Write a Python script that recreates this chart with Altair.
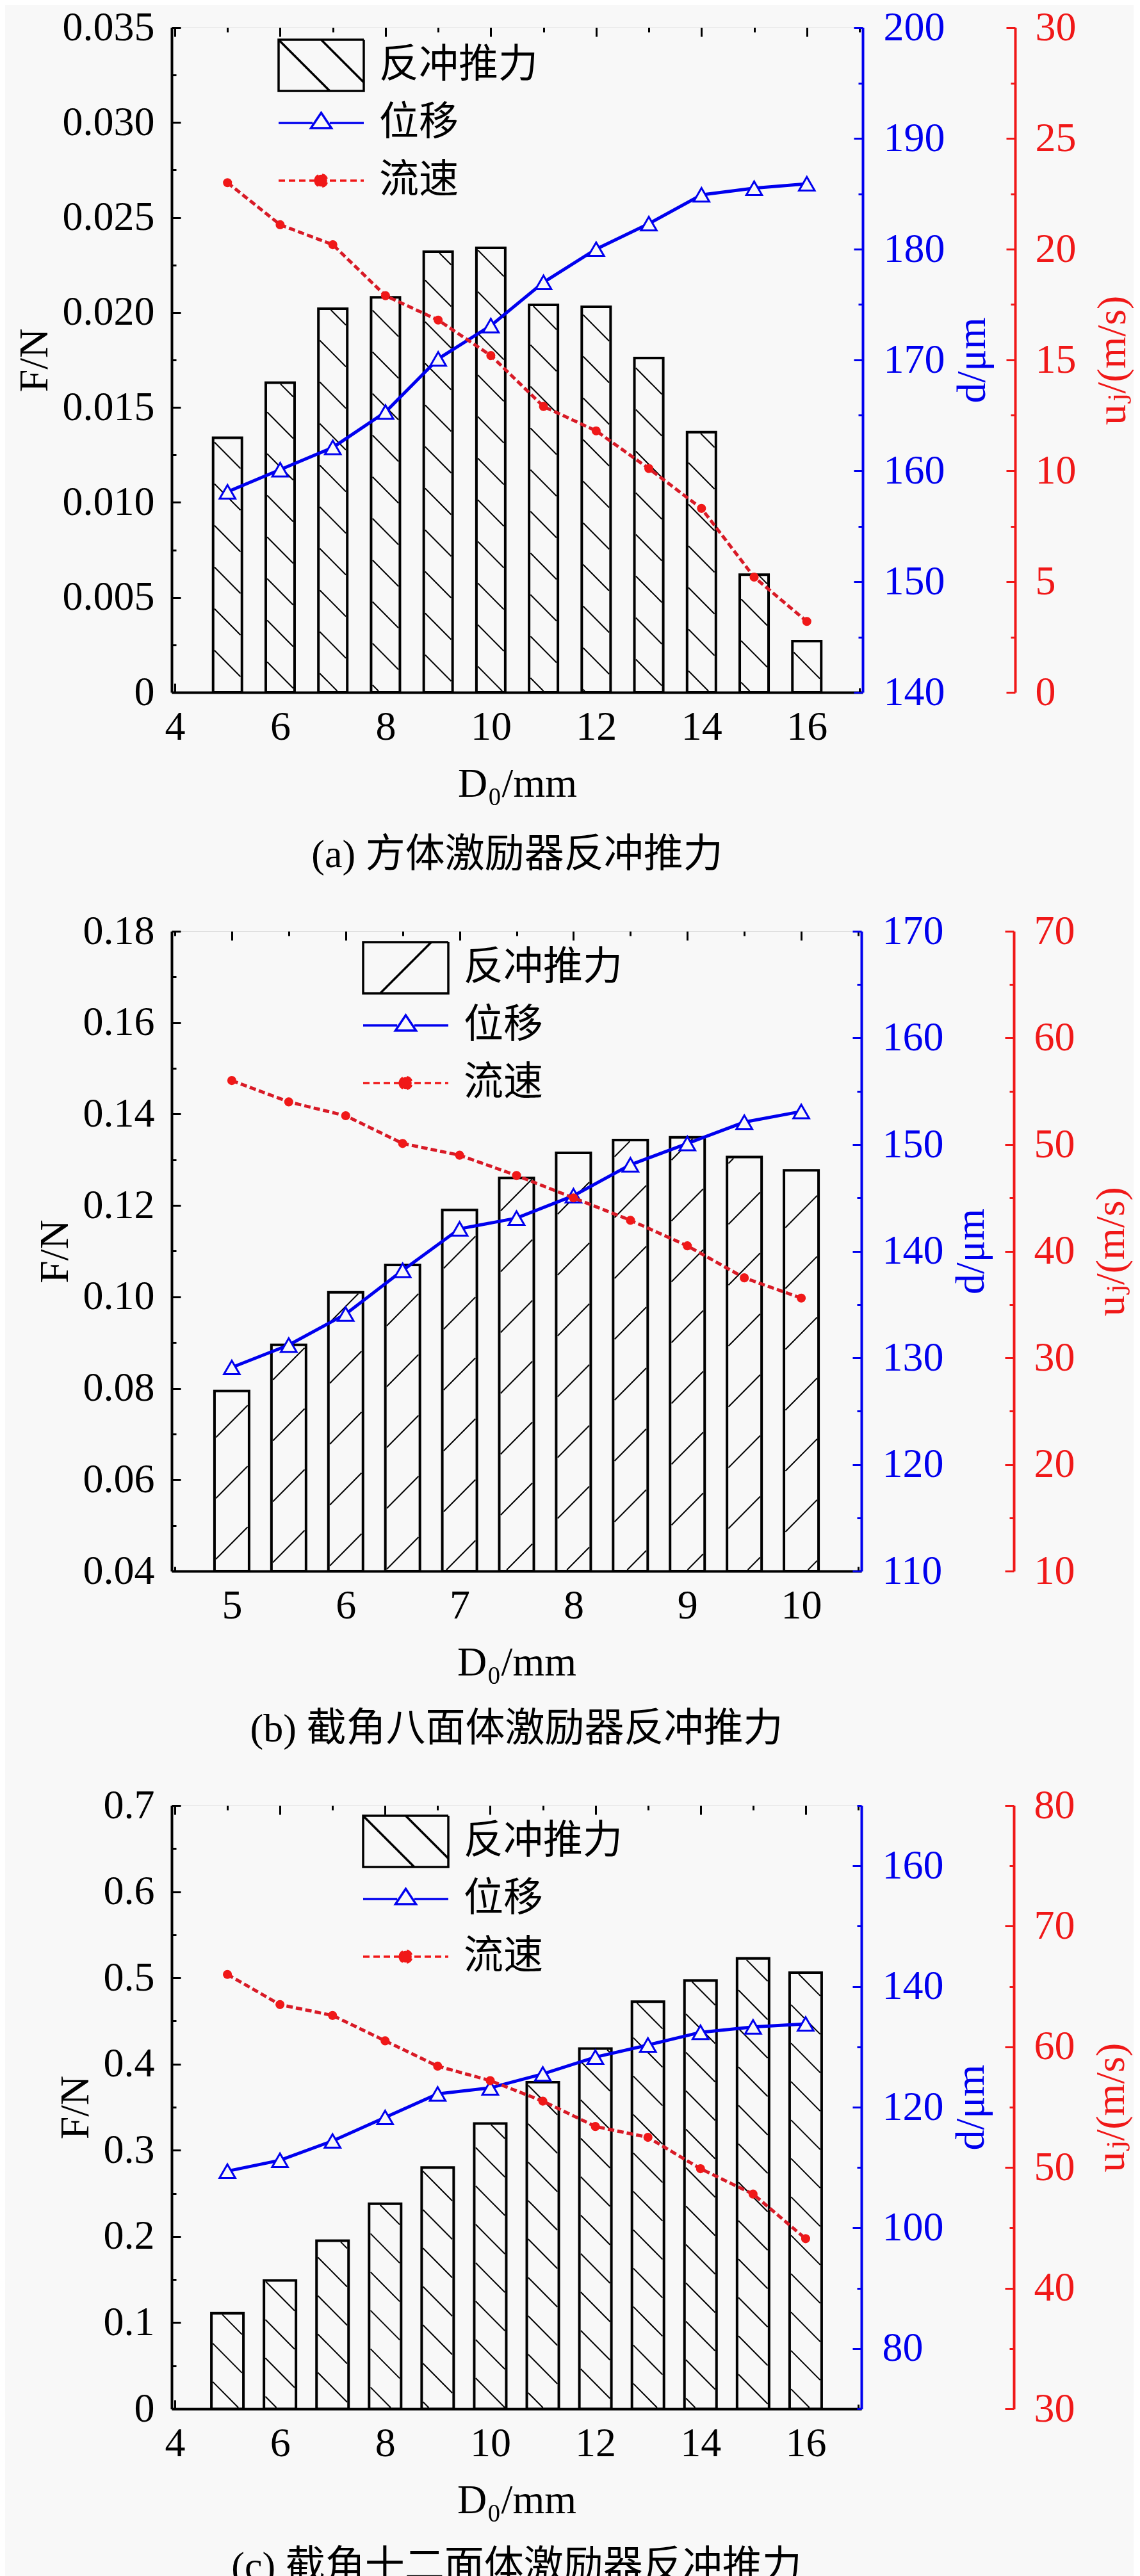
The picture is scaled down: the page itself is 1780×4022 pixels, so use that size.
import math
import numpy as np
import pandas as pd
import altair as alt

# ---------------- data ----------------
A_D0 = [5, 6, 7, 8, 9, 10, 11, 12, 13, 14, 15, 16]
A_F = [0.0134, 0.0163, 0.0202, 0.0208, 0.0232, 0.0234, 0.0204, 0.0203, 0.0176, 0.0137, 0.0062, 0.0027]
A_DISP = [158.1, 160.1, 162.1, 165.3, 170.1, 173.1, 177.0, 180.0, 182.3, 184.9, 185.5, 185.9]
A_VEL = [23.0, 21.1, 20.2, 17.9, 16.8, 15.2, 12.9, 11.8, 10.1, 8.3, 5.2, 3.2]

B_D0 = [5, 5.5, 6, 6.5, 7, 7.5, 8, 8.5, 9, 9.5, 10]
B_F = [0.0794, 0.0895, 0.101, 0.107, 0.119, 0.126, 0.1315, 0.1343, 0.1349, 0.1306, 0.1277]
B_DISP = [129.1, 131.2, 134.1, 138.2, 142.1, 143.1, 145.2, 148.1, 150.1, 152.1, 153.1]
B_VEL = [56.0, 54.0, 52.7, 50.1, 49.0, 47.1, 45.0, 42.9, 40.5, 37.5, 35.6]

C_D0 = [5, 6, 7, 8, 9, 10, 11, 12, 13, 14, 15, 16]
C_F = [0.111, 0.149, 0.195, 0.238, 0.280, 0.331, 0.379, 0.418, 0.4725, 0.497, 0.5225, 0.506]
C_DISP = [109.4, 111.2, 114.4, 118.3, 122.2, 123.2, 125.5, 128.3, 130.3, 132.4, 133.3, 133.8]
C_VEL = [66.0, 63.5, 62.6, 60.5, 58.4, 57.2, 55.5, 53.4, 52.5, 49.9, 47.8, 44.1]

LEGEND_LABELS = ["反冲推力", "位移", "流速"]
CAPTIONS = ["(a) 方体激励器反冲推力", "(b) 截角八面体激励器反冲推力", "(c) 截角十二面体激励器反冲推力"]
X_TITLE = "D₀/mm"
F_TITLE = "F/N"
D_TITLE = "d/μm"
U_TITLE = "uⱼ/(m/s)"

# ---------------- style ----------------
FONT = "Liberation Serif, DejaVu Serif, Noto Sans CJK SC"
BG = "#f8f8f8"
BLUE = "#0000ee"
RED = "#f01818"
RED_LINE = "#d81a26"
TMAJ, TMIN = 14, 7
FS = 64

PANELS = [
    dict(xs=A_D0, F=A_F, D=A_DISP, U=A_VEL, W=1079, H=1038,
         xdom=[4, 17], xstep=1, xmaj=2, fdom=[0, 0.035], fstep=0.0025, fmaj=0.005, ffmt=".3f",
         ddom=[140, 200], dstep=5, dmaj=10, udom=[0, 30], ustep=2.5, umaj=5,
         bw=45, hs=65, hdir="\\", legx=165, legy=15, cap=CAPTIONS[0], capoff=49),
    dict(xs=B_D0, F=B_F, D=B_DISP, U=B_VEL, W=1077, H=999,
         xdom=[4.5, 10.5], xstep=0.5, xmaj=1, fdom=[0.04, 0.18], fstep=0.01, fmaj=0.02, ffmt=".2f",
         ddom=[110, 170], dstep=5, dmaj=10, udom=[10, 70], ustep=5, umaj=10,
         bw=54, hs=95, hdir="/", legx=297, legy=13, cap=CAPTIONS[1], capoff=42),
    dict(xs=C_D0, F=C_F, D=C_DISP, U=C_VEL, W=1077, H=942,
         xdom=[4, 17], xstep=1, xmaj=2, fdom=[0, 0.7], fstep=0.05, fmaj=0.1, ffmt=".1f",
         ddom=[70, 170], dstep=10, dmaj=20, udom=[30, 80], ustep=5, umaj=10,
         bw=50, hs=60, hdir="\\", legx=297, legy=12, cap=CAPTIONS[2], capoff=42),
]

BOX_BACK = "M-1,-0.6H1V0.6H-1Z M-1,-0.6L0.2,0.6 M0,-0.6L1,0.4"
BOX_FWD = "M-1,-0.6H1V0.6H-1Z M-0.6,0.6L0.6,-0.6"
TRI = "M-1,0H-0.2 M0.2,0H1 M-0.24,0.12L0,-0.24L0.24,0.12Z"
CIRC = "M-1,0H1 M-0.14,0A0.14,0.14 0 1,1 0.14,0A0.14,0.14 0 1,1 -0.14,0Z"


def ticks(dom, step):
    n = int(round((dom[1] - dom[0]) / step))
    return [round(dom[0] + i * step, 6) for i in range(n + 1)]


def is_major(m):
    return f"abs(datum.value / {m} - round(datum.value / {m})) < 1e-6"


def mk_axis(orient, values, major, fmt, color, title=None, pad=0, tpad=0,
            labels=True, domain=True, offset=0, zero0=False, tangle=None, tbase=None):
    test = is_major(major)
    kw = dict(orient=orient, values=values,
              tickSize={"expr": f"({test}) ? {-TMAJ} : {-TMIN}"},
              tickColor=color, tickWidth=3, domain=domain, domainColor=color,
              domainWidth=4, labels=labels, offset=offset, grid=False,
              labelOverlap=False, labelFlush=False)
    if labels:
        lab = (f"(datum.value == 0 ? '0' : format(datum.value, '{fmt}'))" if zero0
               else f"format(datum.value, '{fmt}')")
        kw.update(labelExpr=f"({test}) ? {lab} : ''", labelColor=color,
                  labelPadding=pad, labelFont=FONT, labelFontSize=FS)
    if title:
        kw.update(title=title, titleColor=color, titlePadding=tpad, titleFont=FONT,
                  titleFontSize=FS, titleFontWeight="normal")
        if tangle is not None:
            kw.update(titleAngle=tangle)
        if tbase is not None:
            kw.update(titleBaseline=tbase)
    else:
        kw.update(title=None)
    return alt.Axis(**kw)


def hatch_rows(xs, F, xdom, fdom, W, H, bw, sp, direction):
    kx = W / (xdom[1] - xdom[0])
    ky = H / (fdom[1] - fdom[0])
    rows = []
    for xc, v in zip(xs, F):
        cx = (xc - xdom[0]) * kx
        xl, xr = cx - bw / 2 + 2, cx + bw / 2 - 2
        yt, yb = (fdom[1] - v) * ky + 2, H - 2
        if direction == "\\":
            k0, k1 = math.ceil((yt - xr) / sp), math.floor((yb - xl) / sp)
            for k in range(k0, k1 + 1):
                c = k * sp
                xa, xb = max(xl, yt - c), min(xr, yb - c)
                if xb - xa > 1:
                    rows.append((xa, xa + c, xb, xb + c))
        else:
            k0, k1 = math.ceil((xl + yt) / sp), math.floor((xr + yb) / sp)
            for k in range(k0, k1 + 1):
                c = k * sp
                xa, xb = max(xl, c - yb), min(xr, c - yt)
                if xb - xa > 1:
                    rows.append((xa, c - xa, xb, c - xb))
    out = []
    for xa, ya, xb, yb_ in rows:
        out.append(dict(hx=xdom[0] + xa / kx, hy=fdom[1] - ya / ky,
                        hx2=xdom[0] + xb / kx, hy2=fdom[1] - yb_ / ky))
    return pd.DataFrame(out)


def build(P):
    df = pd.DataFrame({"D0": P["xs"], "F": P["F"], "d": P["D"], "u": P["U"]})
    df["base"] = P["fdom"][0]
    hatch = hatch_rows(P["xs"], P["F"], P["xdom"], P["fdom"], P["W"], P["H"], P["bw"], P["hs"], P["hdir"])

    xsc = alt.Scale(domain=P["xdom"], nice=False, zero=False)
    fsc = alt.Scale(domain=P["fdom"], nice=False, zero=False)
    dsc = alt.Scale(domain=P["ddom"], nice=False, zero=False)
    usc = alt.Scale(domain=P["udom"], nice=False, zero=False)

    xv = ticks(P["xdom"], P["xstep"])
    ax_bottom = mk_axis("bottom", xv, P["xmaj"], "d", "black", title=X_TITLE, pad=36, tpad=18)
    ax_top = mk_axis("top", xv, P["xmaj"], "d", "black", labels=False, domain=False)
    ax_left = mk_axis("left", ticks(P["fdom"], P["fstep"]), P["fmaj"], P["ffmt"], "black",
                      title=F_TITLE, pad=41, tpad=11, zero0=True)
    ax_blue = mk_axis("right", ticks(P["ddom"], P["dstep"]), P["dmaj"], "d", BLUE,
                      title=D_TITLE, pad=46, tpad=11, tangle=270, tbase="top")
    ax_red = mk_axis("right", ticks(P["udom"], P["ustep"]), P["umaj"], "d", RED,
                     title=U_TITLE, pad=45, tpad=25, offset=238, tangle=270, tbase="top")

    bars = alt.Chart(df).mark_bar(size=P["bw"], fill=BG, stroke="black", strokeWidth=4).encode(
        x=alt.X("D0:Q", scale=xsc, axis=ax_bottom),
        y=alt.Y("F:Q", scale=fsc, axis=ax_left),
        y2=alt.Y2("base:Q"),
    )
    hl = alt.Chart(hatch).mark_rule(color="black", strokeWidth=2).encode(
        x=alt.X("hx:Q", scale=xsc, axis=ax_bottom),
        y=alt.Y("hy:Q", scale=fsc, axis=ax_left),
        x2=alt.X2("hx2:Q"),
        y2=alt.Y2("hy2:Q"),
    )
    force = alt.layer(bars, hl)

    dline = alt.Chart(df).mark_line(color=BLUE, strokeWidth=5).encode(
        x=alt.X("D0:Q", scale=xsc, axis=ax_top),
        y=alt.Y("d:Q", scale=dsc, axis=ax_blue),
    )
    dpts = alt.Chart(df).mark_point(shape="triangle-up", size=600, filled=True, fill=BG,
                                    stroke=BLUE, strokeWidth=3, opacity=1).encode(
        x=alt.X("D0:Q", scale=xsc, axis=ax_top),
        y=alt.Y("d:Q", scale=dsc, axis=ax_blue),
    )
    disp = alt.layer(dline, dpts)

    uline = alt.Chart(df).mark_line(color=RED_LINE, strokeWidth=5, strokeDash=[10, 5]).encode(
        x=alt.X("D0:Q", scale=xsc, axis=None),
        y=alt.Y("u:Q", scale=usc, axis=ax_red),
    )
    upts = alt.Chart(df).mark_circle(size=200, color=RED, opacity=1).encode(
        x=alt.X("D0:Q", scale=xsc, axis=None),
        y=alt.Y("u:Q", scale=usc, axis=ax_red),
    )
    vel = alt.layer(uline, upts)

    leg = alt.Legend(title=None, orient="none", legendX=P["legx"], legendY=P["legy"],
                     direction="vertical", symbolSize=17689, symbolStrokeWidth=3.5,
                     symbolOpacity=1, labelFont=FONT, labelFontSize=62, labelOffset=22,
                     labelLimit=1000, clipHeight=88, rowPadding=2, padding=0,
                     labelBaseline="middle")
    box = BOX_BACK if P["hdir"] == "\\" else BOX_FWD
    ldf = pd.DataFrame({"s": LEGEND_LABELS})
    legend_layer = alt.Chart(ldf).mark_point(opacity=0).encode(
        shape=alt.Shape("s:N", scale=alt.Scale(domain=LEGEND_LABELS, range=[box, TRI, CIRC]), legend=leg),
        fill=alt.Fill("s:N", scale=alt.Scale(domain=LEGEND_LABELS, range=[BG, BG, RED]), legend=leg),
        stroke=alt.Stroke("s:N", scale=alt.Scale(domain=LEGEND_LABELS, range=["black", BLUE, RED]), legend=leg),
        strokeDash=alt.StrokeDash("s:N", scale=alt.Scale(domain=LEGEND_LABELS, range=[[1, 0], [1, 0], [10, 6]]), legend=leg),
    )

    return alt.layer(force, disp, vel, legend_layer).resolve_scale(
        y="independent"
    ).resolve_axis(x="independent").properties(
        width=P["W"], height=P["H"],
        title=alt.TitleParams(text=P["cap"], orient="bottom", anchor="middle", frame="group",
                              offset=P["capoff"], font=FONT, fontSize=62, fontWeight="normal",
                              color="black"),
    )


chart = alt.vconcat(*[build(P) for P in PANELS], spacing=54).resolve_scale(
    shape="independent", fill="independent", stroke="independent", strokeDash="independent"
).resolve_legend(
    shape="independent", fill="independent", stroke="independent", strokeDash="independent"
).configure_view(
    stroke="black", strokeWidth=4
).configure(
    background=BG
).properties(
    padding={"left": 13, "top": 2, "right": 0, "bottom": 0}
)

chart.save("out.html", embed_options={"renderer": "svg", "actions": False})
